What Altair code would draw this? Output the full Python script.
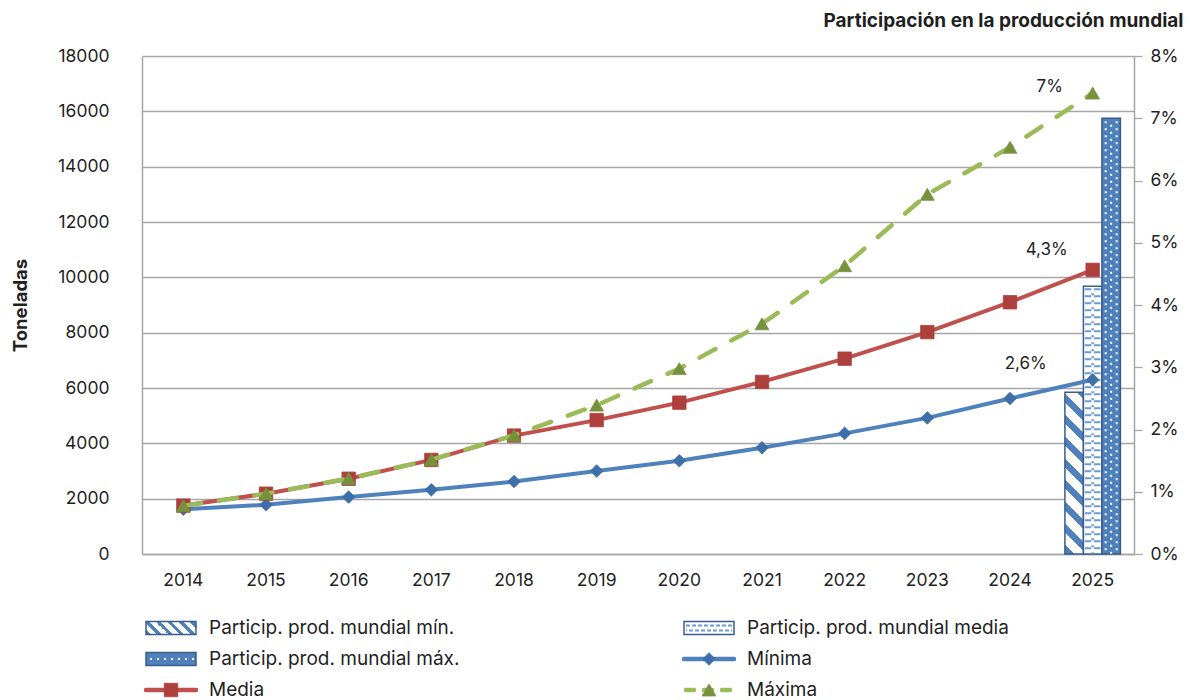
import altair as alt
import pandas as pd

# ---- data -------------------------------------------------------------
years = [str(y) for y in range(2014, 2026)]
minima = [1620, 1780, 2060, 2320, 2620, 3000, 3370, 3840, 4360, 4920, 5620, 6300]
media = [1750, 2180, 2720, 3400, 4280, 4840, 5470, 6220, 7060, 8020, 9100, 10270]
maxima = [1740, 2180, 2730, 3410, 4290, 5380, 6700, 8320, 10420, 13000, 14700, 16660]

share_year = "2025"
share_keys = ["mín", "media", "máx"]
share_values = [2.6, 4.3, 7.0]  # % of world production

legend_labels = [
    "Particip. prod. mundial mín.", "Particip. prod. mundial media",
    "Particip. prod. mundial máx.", "Mínima",
    "Media", "Máxima",
]

# ---- style ------------------------------------------------------------
FONT = "Inter"
TEXT = "#1f1f1f"
GRID = "#a6a6a6"
BLUE, BLUE_MK, BLUE_EDGE = "#4f81bd", "#3f6fa9", "#385d8a"
RED, RED_MK = "#c0504d", "#ad3f3c"
GREEN, GREEN_MK = "#9bbb59", "#76923c"
CHEVRON = "#6e9ad3"

PLOT_W, PLOT_H = 992, 498
PCT_MAX = 8
BAR_W = 18.5
TICK_FS = 17.5


def pct_label(v):
    return (f"{v:.0f}" if float(v).is_integer() else f"{v:.1f}".replace(".", ",")) + "%"


def stripes(w, h, n, frac=0.42, color=BLUE):
    """Diagonal '\\' stripes as a hard-stop linear gradient (bbox units)."""
    r = h / w
    s = (1 + r) / (1 + r * r)
    stops = []
    k = 0
    while k / n < 1:
        a, b, c = k / n, min((k + frac) / n, 1), min((k + 1) / n, 1)
        stops += [(a, color), (b, color), (b, "white"), (c, "white")]
        k += 1
    return alt.LinearGradient(
        gradient="linear",
        stops=[alt.GradientStop(offset=o, color=col) for o, col in stops],
        x1=0, y1=1, x2=s, y2=1 - s * r,
    )


# ---- tables -------------------------------------------------------------
series_names = ["Mínima", "Media", "Máxima"]
lines_df = pd.DataFrame({
    "year": years * 3,
    "serie": sum([[n] * len(years) for n in series_names], []),
    "t": minima + media + maxima,
})
share_df = pd.DataFrame({
    "year": [share_year] * 3,
    "k": share_keys,
    "v": share_values,
    "label": [pct_label(v) for v in share_values],
})
legend_df = pd.DataFrame({
    "label": legend_labels,
    "col": [0, 1, 0, 1, 0, 1],
    "row": [0, 0, 1, 1, 2, 2],
})

# ---- scales / axes ----------------------------------------------------
x_scale = alt.Scale(type="band", domain=years, paddingInner=0, paddingOuter=0)
x_enc = alt.X(
    "year:O", scale=x_scale, title=None,
    axis=alt.Axis(labelAngle=0, ticks=False, labelPadding=17, domainColor=GRID,
                  domainWidth=1.5, labelFontSize=TICK_FS, labelColor=TEXT, labelFont=FONT,
                  grid=False),
)
t_scale = alt.Scale(domain=[0, 18000], nice=False)
t_axis = alt.Axis(
    orient="left", values=list(range(0, 18001, 2000)), format="d",
    grid=True, gridColor=GRID, gridWidth=1.3, ticks=False, labelPadding=33,
    domainColor=GRID, domainWidth=1.5, labelFontSize=TICK_FS, labelColor=TEXT, labelFont=FONT,
    title="Toneladas", titleFont=FONT, titleFontSize=18.5, titleFontWeight="bold",
    titleColor=TEXT, titleAngle=-90, titleX=-122, titleY=PLOT_H / 2,
    titleAlign="center", titleBaseline="middle",
)
p_scale = alt.Scale(domain=[0, PCT_MAX], nice=False)
p_axis = alt.Axis(
    orient="right", values=list(range(0, PCT_MAX + 1)), labelExpr="datum.value + '%'",
    grid=False, tickSize=8, tickColor=GRID, tickWidth=1.3, labelPadding=8,
    domainColor=GRID, domainWidth=1.5, labelFontSize=TICK_FS, labelColor=TEXT, labelFont=FONT,
    title="Participación en la producción mundial", titleFont=FONT, titleFontSize=19,
    titleFontWeight="bold", titleColor=TEXT, titleAngle=0, titleAlign="right",
    titleBaseline="alphabetic", titleX=49, titleY=-30,
)

# ---- share bars (right axis) -------------------------------------------
share_base = alt.Chart(share_df)
y_p = alt.Y("v:Q", scale=p_scale, axis=p_axis, title="Participación en la producción mundial")
zero_p = alt.datum(0)

h_min = share_values[0] / PCT_MAX * PLOT_H
bar_min = share_base.transform_filter(alt.datum.k == "mín").mark_bar(
    width=BAR_W, xOffset=-BAR_W, fill=stripes(BAR_W, h_min, (BAR_W + h_min) / 21.7),
    stroke=BLUE_EDGE, strokeWidth=1.5,
).encode(x=x_enc, y=y_p, y2=zero_p)

bar_med = share_base.transform_filter(alt.datum.k == "media").mark_bar(
    width=BAR_W, fill="white", stroke=BLUE_EDGE, strokeWidth=1.5,
).encode(x=x_enc, y=y_p, y2=zero_p)

bar_max = share_base.transform_filter(alt.datum.k == "máx").mark_bar(
    width=BAR_W, xOffset=BAR_W, fill=BLUE, stroke=BLUE_EDGE, strokeWidth=1.5,
).encode(x=x_enc, y=y_p, y2=zero_p)

# texture inside the "media" bar (chevron-like dashes)
med_tex = [
    share_base.transform_filter(alt.datum.k == "media").mark_rule(
        xOffset=dx, strokeWidth=w, strokeDash=[2, 5], strokeDashOffset=off, color=CHEVRON,
        yOffset=2,
    ).encode(x=x_enc, y=y_p, y2=zero_p)
    for dx, off, w in [(-4.6, 0, 6.5), (4.6, 0, 6.5), (0, 2, 2.5)]
]
# white dots inside the "máx" bar
max_tex = [
    share_base.transform_filter(alt.datum.k == "máx").mark_rule(
        xOffset=BAR_W + dx, strokeWidth=2, strokeDash=[2, 5], strokeDashOffset=off,
        color="white", yOffset=3,
    ).encode(x=x_enc, y=y_p, y2=zero_p)
    for dx, off in [(-5.5, 0), (0, 3.5), (5.5, 0)]
]

label_offsets = {"mín": (-67, -28), "media": (-46, -36), "máx": (-43, -31)}
share_text = [
    share_base.transform_filter(alt.datum.k == k).mark_text(
        dx=dx, dy=dy, font=FONT, fontSize=17, color=TEXT, baseline="middle",
    ).encode(x=x_enc, y=y_p, text="label:N")
    for k, (dx, dy) in label_offsets.items()
]

right_group = alt.layer(bar_min, bar_med, bar_max, *med_tex, *max_tex, *share_text)

# ---- lines (left axis) --------------------------------------------------
line_style = {
    "Mínima": dict(color=BLUE, mk=BLUE_MK, shape="diamond", size=160, dash=None),
    "Media": dict(color=RED, mk=RED_MK, shape="square", size=180, dash=None),
    "Máxima": dict(color=GREEN, mk=GREEN_MK, shape="triangle-up", size=190, dash=[18, 18]),
}
line_layers = []
for name in series_names:
    st = line_style[name]
    base = alt.Chart(lines_df).transform_filter(alt.datum.serie == name)
    kw = dict(color=st["color"], strokeWidth=4, strokeCap="round")
    if st["dash"]:
        kw.update(strokeDash=st["dash"], strokeWidth=4.5)
    line_layers.append(base.mark_line(**kw).encode(
        x=x_enc, y=alt.Y("t:Q", scale=t_scale, axis=t_axis)))
    line_layers.append(base.mark_point(
        shape=st["shape"], size=st["size"], filled=True, fill=st["mk"], opacity=1,
        stroke=st["mk"], strokeWidth=0.8,
    ).encode(x=x_enc, y=alt.Y("t:Q", scale=t_scale, axis=t_axis)))

left_group = alt.layer(*line_layers)

main = alt.layer(right_group, left_group).resolve_scale(y="independent")

# ---- legend -----------------------------------------------------------
lx = alt.X("col:Q", scale=alt.Scale(domain=[0, 1], range=[29, 567], nice=False, zero=False), axis=None)
ly = alt.Y("row:Q", scale=alt.Scale(domain=[0, 2], range=[572, 634], nice=False, zero=False), axis=None)
leg = alt.Chart(legend_df)
SW, SH = 25, 6.5


def swatch(label, fill):
    return leg.transform_filter(alt.datum.label == label).mark_rect(
        xOffset=-SW, x2Offset=SW, yOffset=-SH, y2Offset=SH, fill=fill,
        stroke=BLUE_EDGE, strokeWidth=1.5,
    ).encode(x=lx, x2="col:Q", y=ly, y2="row:Q")


leg_layers = [
    swatch(legend_labels[0], stripes(2 * SW, 2 * SH, 5.6)),
    swatch(legend_labels[1], "white"),
    swatch(legend_labels[2], BLUE),
]
for yo, off in [(-2.5, 0), (2.5, 3)]:
    leg_layers.append(leg.transform_filter(alt.datum.label == legend_labels[1]).mark_rule(
        xOffset=-SW + 2, x2Offset=SW - 2, yOffset=yo, y2Offset=yo, strokeWidth=2,
        strokeDash=[4, 2], strokeDashOffset=off, color=CHEVRON,
    ).encode(x=lx, x2="col:Q", y=ly))
leg_layers.append(leg.transform_filter(alt.datum.label == legend_labels[2]).mark_rule(
    xOffset=-SW + 4, x2Offset=SW - 2, strokeWidth=2, strokeDash=[2, 5], color="white",
).encode(x=lx, x2="col:Q", y=ly))

for name in series_names:
    st = line_style[name]
    sel = leg.transform_filter(alt.datum.label == name)
    kw = dict(color=st["color"], strokeWidth=4.5, strokeCap="round",
              xOffset=-SW, x2Offset=SW)
    if st["dash"]:
        kw.update(strokeDash=[8, 10], xOffset=-SW + 2, x2Offset=SW - 2)
    leg_layers.append(sel.mark_rule(**kw).encode(x=lx, x2="col:Q", y=ly))
    leg_layers.append(sel.mark_point(
        shape=st["shape"], size=st["size"], filled=True, fill=st["mk"], opacity=1,
        stroke=st["mk"], strokeWidth=0.8,
    ).encode(x=lx, y=ly))

leg_layers.append(leg.mark_text(
    align="left", baseline="middle", dx=38, font=FONT, fontSize=19, color=TEXT,
).encode(x=lx, y=ly, text="label:N"))

legend = alt.layer(*leg_layers)

chart = (
    alt.layer(main, legend)
    .resolve_scale(x="independent", y="independent")
    .properties(
        width=PLOT_W, height=PLOT_H,
        padding={"left": 142, "top": 56, "right": 56, "bottom": 146},
        autosize=alt.AutoSizeParams(type="none"),
        background="white",
    )
    .configure_view(stroke=None)
)

chart.save("out.html", embed_options={"renderer": "svg", "actions": False})
